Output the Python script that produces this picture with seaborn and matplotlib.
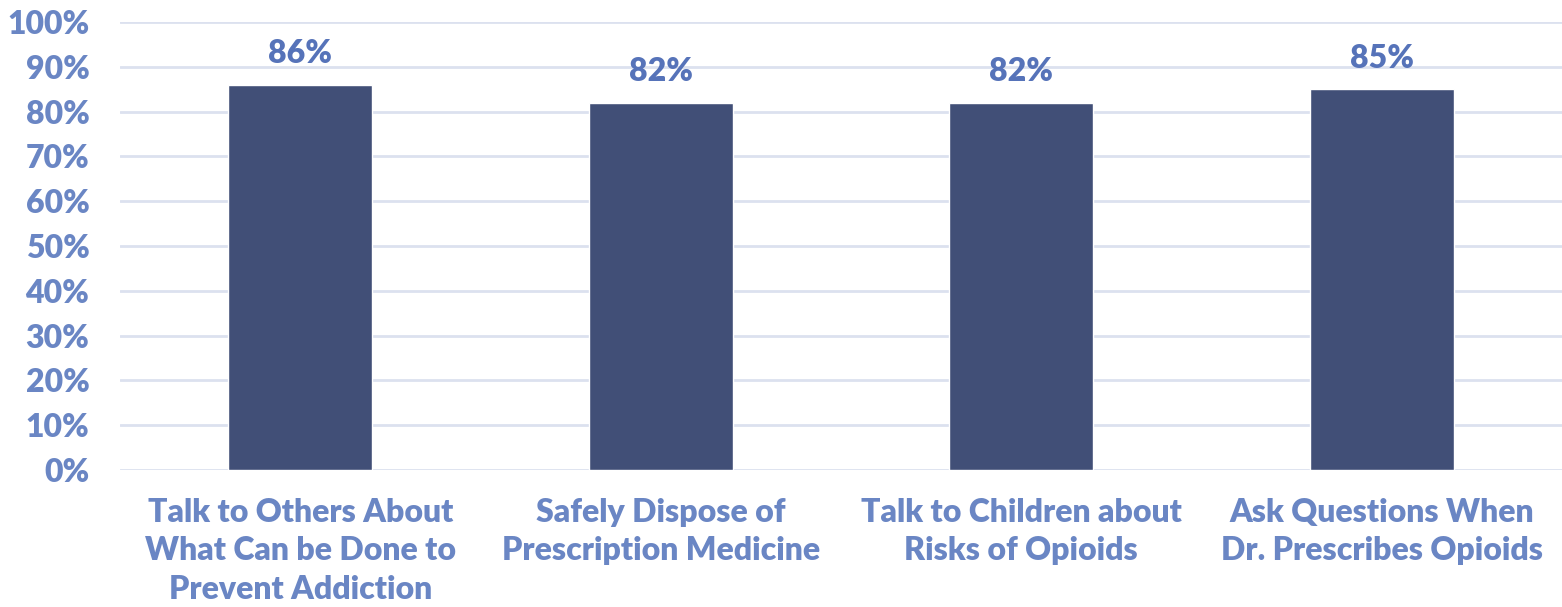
import pandas as pd
import seaborn as sns
import matplotlib.pyplot as plt
from matplotlib.ticker import PercentFormatter

# chart data
actions = [
    "Talk to Others About\nWhat Can be Done to\nPrevent Addiction",
    "Safely Dispose of\nPrescription Medicine",
    "Talk to Children about\nRisks of Opioids",
    "Ask Questions When\nDr. Prescribes Opioids",
]
pct = [86, 82, 82, 85]
yticks = list(range(0, 101, 10))

df = pd.DataFrame({"action": actions, "pct": pct})

BAR = "#414F77"
TXT = "#6A86C4"
VAL = "#5673B9"
GRID = "#DCE1EF"
FONTSIZE = 23

sns.set_style("white")
plt.rcParams["font.family"] = ["Lato", "DejaVu Sans"]

fig = plt.figure(figsize=(15.62, 6.07), dpi=100)
ax = fig.add_axes([0.0768, 0.2257, 0.9232, 0.7381])

sns.barplot(data=df, x="action", y="pct", color=BAR, width=0.4, saturation=1, ax=ax, zorder=3)

ax.set_ylim(0, 100)
ax.set_xlim(-0.5, len(actions) - 0.5)
ax.set_yticks(yticks)
ax.yaxis.set_major_formatter(PercentFormatter(decimals=0))
ax.grid(axis="y", color=GRID, linewidth=2, zorder=0)
ax.set_axisbelow(True)
for s in ax.spines.values():
    s.set_visible(False)
ax.tick_params(axis="both", length=0)
ax.tick_params(axis="y", pad=22)
ax.tick_params(axis="x", pad=20)
ax.set_xlabel("")
ax.set_ylabel("")

for lab in ax.get_yticklabels() + ax.get_xticklabels():
    lab.set_color(TXT)
    lab.set_fontsize(FONTSIZE)
    lab.set_fontweight("heavy")
for lab in ax.get_xticklabels():
    lab.set_linespacing(1.4)

ax.bar_label(ax.containers[0], labels=[f"{v}%" for v in pct], padding=12,
             color=VAL, fontsize=FONTSIZE, fontweight="heavy")

fig.savefig("out.png", dpi=100)
